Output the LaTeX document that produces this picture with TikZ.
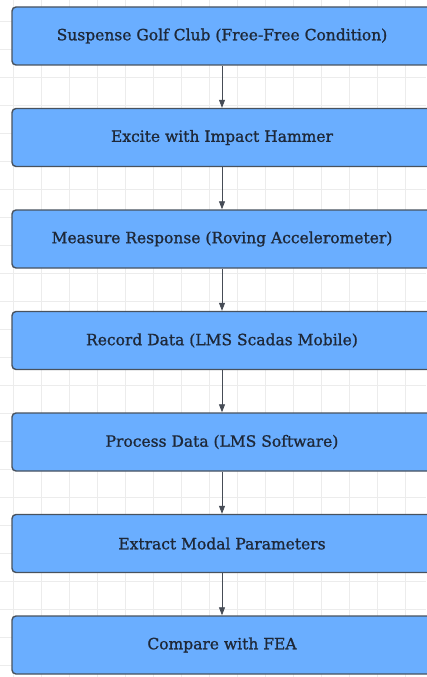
\documentclass[tikz,border=0pt]{standalone}
\usepackage{fontspec}
\setmainfont{DejaVu Serif}
\newfontfamily\labelfont[FakeBold=1.1]{DejaVu Serif}
\usetikzlibrary{arrows.meta}
\definecolor{gridline}{RGB}{236,236,236}
\definecolor{boxfill}{RGB}{106,174,255}
\definecolor{boxedge}{RGB}{72,82,94}
\definecolor{boxtext}{RGB}{30,40,56}
\definecolor{linkcol}{RGB}{70,76,86}
\tikzset{
  stepbox/.style={draw=boxedge, line width=1.4pt, fill=boxfill, rounded corners=4pt,
    minimum width=420pt, minimum height=58pt, inner sep=0pt,
    font=\labelfont\fontsize{15.5}{18}\selectfont, text=boxtext},
  link/.style={draw=linkcol, line width=0.8pt, -{Triangle[length=8pt,width=6pt]}}
}
\begin{document}
\begin{tikzpicture}[x=1pt,y=-1pt]
  % canvas
  \fill[white] (0,0) rectangle (426,677);
  \useasboundingbox (0,0) rectangle (426,677);
  % background grid
  \foreach \gx in {13,41,...,413} \draw[gridline, line width=0.8pt] (\gx,0) -- (\gx,677);
  \foreach \gy in {21,49,...,677} \draw[gridline, line width=0.8pt] (0,\gy) -- (426,\gy);
  % process steps
  \node[stepbox] (s1) at (222,36)    {Suspense Golf Club (Free-Free Condition)};
  \node[stepbox] (s2) at (222,137.5) {Excite with Impact Hammer};
  \node[stepbox] (s3) at (222,239)   {Measure Response (Roving Accelerometer)};
  \node[stepbox] (s4) at (222,340.5) {Record Data (LMS Scadas Mobile)};
  \node[stepbox] (s5) at (222,442)   {Process Data (LMS Software)};
  \node[stepbox] (s6) at (222,543.5) {Extract Modal Parameters};
  \node[stepbox] (s7) at (222,645)   {Compare with FEA};
  % connectors
  \foreach \a/\b in {s1/s2,s2/s3,s3/s4,s4/s5,s5/s6,s6/s7}
    \draw[link] (\a.south) -- (\b.north);
\end{tikzpicture}
\end{document}
